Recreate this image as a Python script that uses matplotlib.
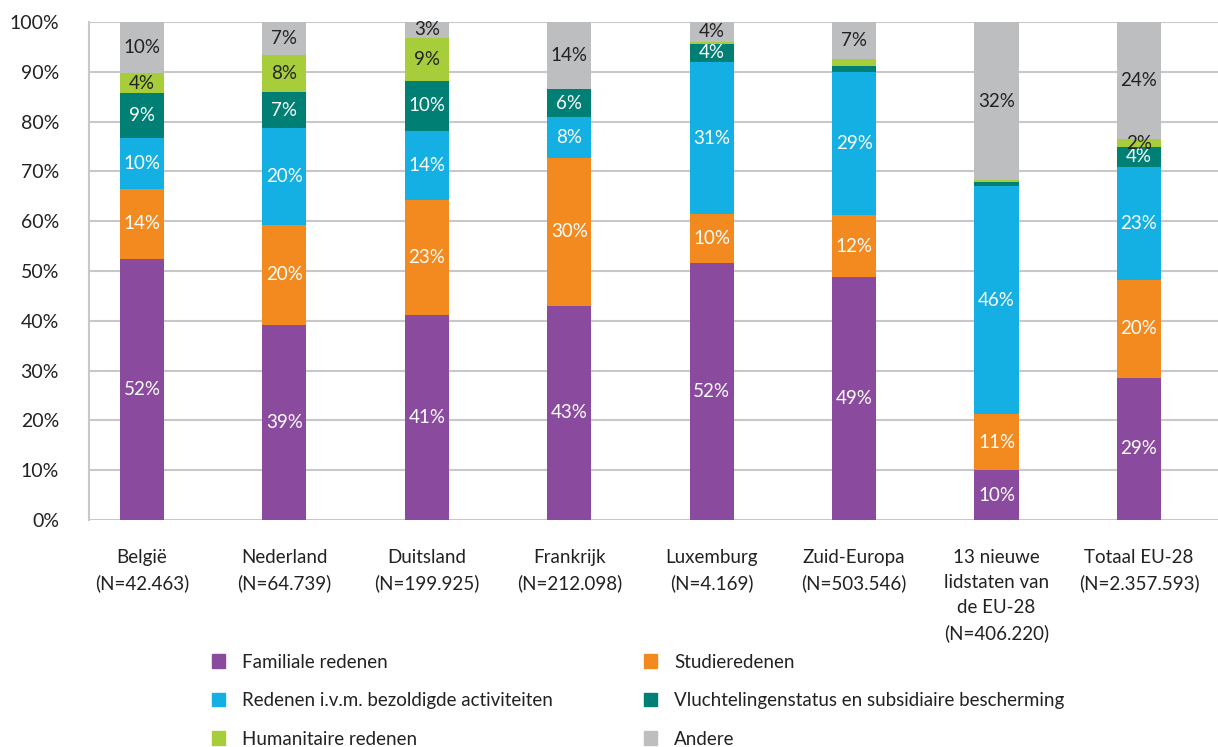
import numpy as np
import matplotlib
matplotlib.use("Agg")
import matplotlib.pyplot as plt
from matplotlib.patches import Patch

plt.rcParams['font.family'] = ['Lato', 'DejaVu Sans']

categories = ["België\n(N=42.463)", "Nederland\n(N=64.739)", "Duitsland\n(N=199.925)",
              "Frankrijk\n(N=212.098)", "Luxemburg\n(N=4.169)", "Zuid-Europa\n(N=503.546)",
              "13 nieuwe\nlidstaten van\nde EU-28\n(N=406.220)", "Totaal EU-28\n(N=2.357.593)"]

series_names = ["Familiale redenen", "Studieredenen", "Redenen i.v.m. bezoldigde activiteiten",
                "Vluchtelingenstatus en subsidiaire bescherming", "Humanitaire redenen", "Andere"]

familiale = [52.4, 39.2, 41.2, 43.0, 51.6, 48.8, 10.0, 28.6]
studie = [14.1, 20.0, 23.1, 29.7, 9.8, 12.4, 11.3, 19.6]
bezoldigd = [10.2, 19.5, 13.9, 8.2, 30.6, 28.8, 45.7, 22.7]
vlucht = [9.0, 7.2, 10.0, 5.6, 3.6, 1.2, 0.8, 4.0]
humanitair = [4.1, 7.5, 8.6, 0.0, 0.4, 1.4, 0.4, 1.6]
andere = [10.2, 6.6, 3.2, 13.5, 4.0, 7.4, 31.8, 23.5]

colors = ["#8A4A9E", "#F38A20", "#14B0E4", "#007F74", "#A7CD3A", "#BDBEC0"]
text_colors = ["white", "white", "white", "white", "#222222", "#222222"]

data = [familiale, studie, bezoldigd, vlucht, humanitair, andere]

fig = plt.figure(figsize=(12.18, 7.47), dpi=100)
ax = fig.add_axes([89.5 / 1218, 1 - 520 / 747, 1 - 89.5 / 1218, 498 / 747])

x = np.arange(len(categories))
bottom = np.zeros(len(categories))
for vals, col, tcol in zip(data, colors, text_colors):
    vals = np.array(vals)
    ax.bar(x, vals, bottom=bottom, width=0.31, color=col, zorder=3)
    for xi, v, b in zip(x, vals, bottom):
        pct = int(v + 0.5)
        if pct >= 2:
            ax.text(xi, b + v / 2, f"{pct}%", ha='center', va='center',
                    color=tcol, fontsize=13.5, zorder=4)
    bottom += vals

ax.set_ylim(0, 100)
ax.set_xlim(-0.3686, 7.555)
ax.set_yticks(range(0, 101, 10))
ax.set_yticklabels([f"{v}%" for v in range(0, 101, 10)], fontsize=14, color="#222222")
ax.set_xticks(x)
ax.set_xticklabels(categories, fontsize=13.5, color="#222222", linespacing=1.55, va='top')
ax.tick_params(axis='both', length=0)
ax.tick_params(axis='y', pad=22)
ax.tick_params(axis='x', pad=21)
ax.yaxis.grid(True, color="#C8C8C8", linewidth=1.5, zorder=0)
ax.set_axisbelow(True)
for s in ['top', 'right', 'bottom']:
    ax.spines[s].set_visible(False)
ax.spines['left'].set_color("#C8C8C8")
ax.spines['left'].set_linewidth(1.5)

handles = [Patch(color=c) for c in colors]
leg_kw = dict(frameon=False, fontsize=13.5, handlelength=0.72, handleheight=0.72,
              handletextpad=0.9, labelspacing=1.15, loc='upper left', borderaxespad=0,
              labelcolor="#222222")
leg1 = fig.legend([handles[0], handles[2], handles[4]],
                  [series_names[0], series_names[2], series_names[4]],
                  bbox_to_anchor=(204 / 1218, 1 - 646 / 747), **leg_kw)
leg2 = fig.legend([handles[1], handles[3], handles[5]],
                  [series_names[1], series_names[3], series_names[5]],
                  bbox_to_anchor=(636 / 1218, 1 - 646 / 747), **leg_kw)

fig.savefig("out.png", dpi=100)
